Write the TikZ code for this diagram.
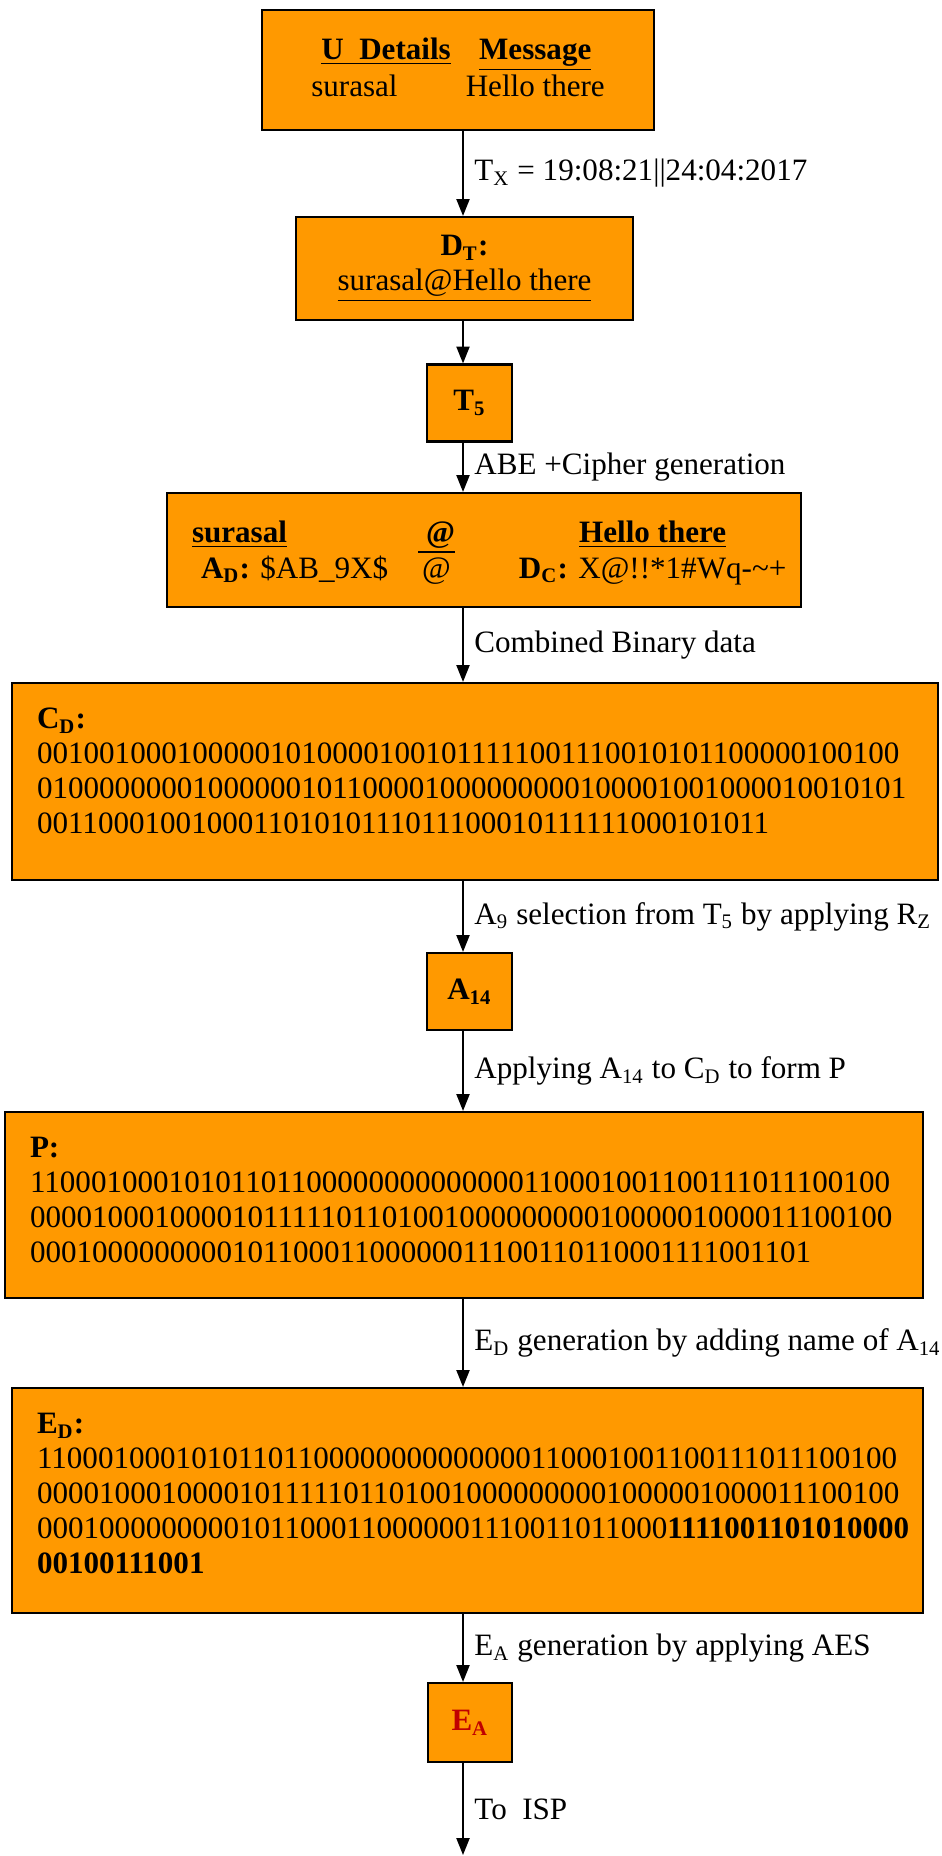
\documentclass[tikz,border=0pt]{standalone}
\usepackage{fontspec}
\setmainfont{Liberation Serif}
\usetikzlibrary{arrows.meta, positioning}
\definecolor{boxorange}{RGB}{255,153,0}
\definecolor{cipherred}{RGB}{192,0,0}
\newlength{\px}
\setlength{\px}{0.386pt}
\tikzstyle{block} = [rectangle, draw=black, line width=0.8pt, fill=boxorange, inner sep=25*\px]
\tikzstyle{smallblock} = [block, inner sep=0pt, minimum width=85*\px, minimum height=77*\px, font=\fontsize{12}{13.5}\selectfont\bfseries]
\tikzstyle{connector} = [draw, line width=0.8pt, -{Triangle[length=6.5pt, width=5pt]}]
\tikzstyle{steplabel} = [right, midway, inner sep=4pt]

\begin{document}
\begin{tikzpicture}[x=0.386pt, y=-0.386pt, every node/.style={font=\fontsize{12}{13.5}\selectfont}]
    \useasboundingbox (0,0) rectangle (941,1856);
    % Nodes
    \node [block] (udet) at (458,70) {\parbox[c][70\px][t]{342\px}{\centering
        \begin{tabular}{@{}l@{\hspace{15\px}}c@{}}
        \hspace{10\px}\underline{\textbf{U\ \ Details}} & \underline{\textbf{Message}}\\
        surasal & Hello there
        \end{tabular}}};
    \node [block, inner sep=0pt, minimum width=337*\px, minimum height=103*\px, align=center] (dt) at (464.5,268.5)
        {\textbf{D\textsubscript{T}:}\\ \underline{surasal@Hello there}};
    \node [smallblock] (t5) at (469.5,403) {T\textsubscript{5}};
    \node [block] (abe) at (484,550) {\parbox[c][64\px][t]{584\px}{%
        \begin{tabular}{@{}l@{\hspace{30\px}}c@{\hspace{64\px}}c@{}}
        \underline{\textbf{surasal}} & \underline{\textbf{\ @}} & \underline{\textbf{Hello there}}\\
        \hspace{9\px}\textbf{A\textsubscript{D}:} \$AB\_9X\$ & @ & \textbf{D\textsubscript{C}:} X@!!*1\#Wq-\textasciitilde+
        \end{tabular}}};
    \node [block] (cd) at (475,781.5) {\parbox[c][147\px][t]{876\px}{%
        \textbf{C\textsubscript{D}:}\\
        00100100010000010100001001011111001110010101100000100100\\
        01000000001000000101100001000000000100001001000010010101\\
        001100010010001101010111011100010111111000101011}};
    \node [smallblock] (a14) at (469.5,991.5) {A\textsubscript{14}};
    \node [block] (pbox) at (464,1205) {\parbox[c][136\px][t]{868\px}{%
        \textbf{P:}\\
        11000100010101101100000000000000110001001100111011100100\\
        00001000100001011111011010010000000001000001000011100100\\
        000100000000010110001100000011100110110001111001101}};
    \node [block] (ed) at (467.5,1500.5) {\parbox[c][175\px][t]{861\px}{%
        \textbf{E\textsubscript{D}:}\\
        11000100010101101100000000000000110001001100111011100100\\
        00001000100001011111011010010000000001000001000011100100\\
        00010000000001011000110000001110011011000\textbf{1111001101010000}\\
        \textbf{00100111001}}};
    \node [smallblock, text=cipherred, minimum width=84*\px, minimum height=79*\px] (ea) at (470,1722.5) {E\textsubscript{A}};
    \coordinate (spine) at (463,0);
    \coordinate (isp) at (463,1855);

    % Arrows
    \path [connector] (udet.south -| spine) -- node[steplabel] {T\textsubscript{X} = 19:08:21||24:04:2017} (dt.north -| spine);
    \path [connector] (dt.south -| spine) -- (t5.north -| spine);
    \path [connector] (t5.south -| spine) -- node[steplabel] {ABE +Cipher generation} (abe.north -| spine);
    \path [connector] (abe.south -| spine) -- node[steplabel] {Combined Binary data} (cd.north -| spine);
    \path [connector] (cd.south -| spine) -- node[steplabel] {A\textsubscript{9} selection from T\textsubscript{5} by applying R\textsubscript{Z}} (a14.north -| spine);
    \path [connector] (a14.south -| spine) -- node[steplabel] {Applying A\textsubscript{14} to C\textsubscript{D} to form P} (pbox.north -| spine);
    \path [connector] (pbox.south -| spine) -- node[steplabel] {E\textsubscript{D} generation by adding name of A\textsubscript{14}} (ed.north -| spine);
    \path [connector] (ed.south -| spine) -- node[steplabel] {E\textsubscript{A} generation by applying AES} (ea.north -| spine);
    \path [connector] (ea.south -| spine) -- node[steplabel] {To\ \ ISP} (isp);
\end{tikzpicture}
\end{document}
